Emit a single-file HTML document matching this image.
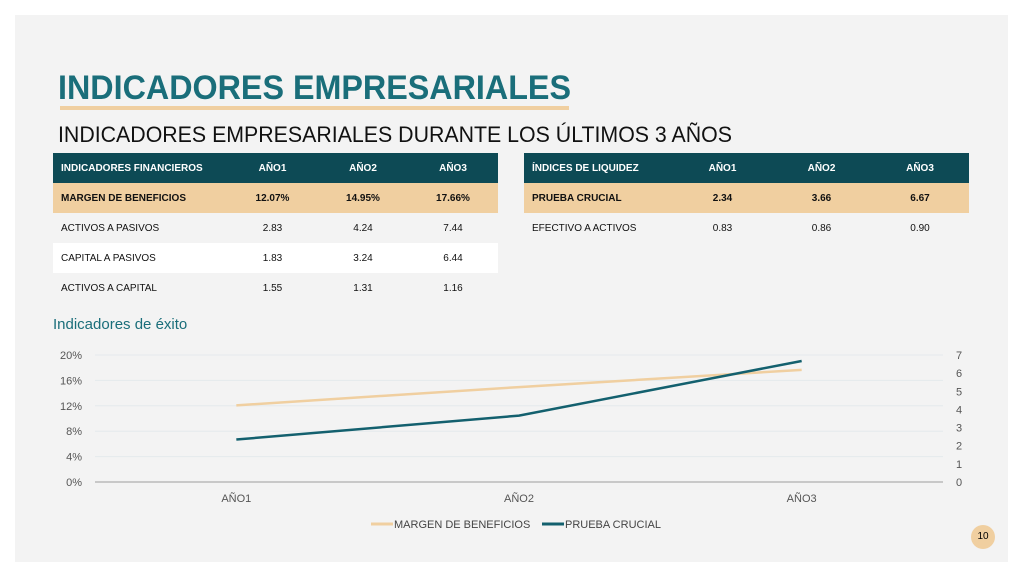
<!DOCTYPE html>
<html><head><meta charset="utf-8">
<style>
body{margin:0;width:1024px;height:576px;background:#fff;position:relative;overflow:hidden;font-family:"Liberation Sans",sans-serif}
#panel{position:absolute;left:15px;top:15px;width:993px;height:547px;background:#f3f3f3}
table{position:absolute;border-collapse:collapse;font-size:10px;color:#111}
td,th{height:30px;padding:0;text-align:center;font-weight:normal}
th{background:#0d4a55;color:#fff;font-weight:bold}
td:first-child,th:first-child{text-align:left;padding-left:8px}
tr.hl td{background:#f0cfa0;font-weight:bold}
tr.wh td{background:#fff}
</style></head><body>
<div id="panel"></div>
<svg width="1024" height="576" style="position:absolute;left:0;top:0">
<text x="58" y="99" font-family="Liberation Sans Narrow, Liberation Sans, sans-serif" font-weight="bold" font-size="34" fill="#1a6e7a" textLength="513" lengthAdjust="spacingAndGlyphs">INDICADORES EMPRESARIALES</text>
<rect x="60" y="106" width="509" height="4" fill="#f0cfa0"/>
<text x="58" y="142" font-family="Liberation Sans Narrow, Liberation Sans, sans-serif" font-size="22" fill="#111" textLength="674" lengthAdjust="spacingAndGlyphs">INDICADORES EMPRESARIALES DURANTE LOS ÚLTIMOS 3 AÑOS</text>
</svg>
<table style="left:53px;top:153px;width:445px">
<colgroup><col style="width:174px"><col style="width:91px"><col style="width:90px"><col style="width:90px"></colgroup>
<tr><th>INDICADORES FINANCIEROS</th><th>AÑO1</th><th>AÑO2</th><th>AÑO3</th></tr>
<tr class="hl"><td>MARGEN DE BENEFICIOS</td><td>12.07%</td><td>14.95%</td><td>17.66%</td></tr>
<tr><td>ACTIVOS A PASIVOS</td><td>2.83</td><td>4.24</td><td>7.44</td></tr>
<tr class="wh"><td>CAPITAL A PASIVOS</td><td>1.83</td><td>3.24</td><td>6.44</td></tr>
<tr><td>ACTIVOS A CAPITAL</td><td>1.55</td><td>1.31</td><td>1.16</td></tr>
</table>
<table style="left:524px;top:153px;width:445px">
<colgroup><col style="width:149px"><col style="width:99px"><col style="width:99px"><col style="width:98px"></colgroup>
<tr><th>ÍNDICES DE LIQUIDEZ</th><th>AÑO1</th><th>AÑO2</th><th>AÑO3</th></tr>
<tr class="hl"><td>PRUEBA CRUCIAL</td><td>2.34</td><td>3.66</td><td>6.67</td></tr>
<tr><td>EFECTIVO A ACTIVOS</td><td>0.83</td><td>0.86</td><td>0.90</td></tr>
</table>
<svg id="chart" width="1024" height="576" style="position:absolute;left:0;top:0"></svg>
<div style="position:absolute;left:971px;top:525px;width:24px;height:24px;border-radius:50%;background:#f0cfa0;font-size:10px;text-align:center;line-height:24px">10</div>
<script>
const categories=["AÑO1","AÑO2","AÑO3"];
const margen=[12.07,14.95,17.66];
const prueba=[2.34,3.66,6.67];
const leftTicks=[0,4,8,12,16,20];
const rightTicks=[0,1,2,3,4,5,6,7];
const svg=document.getElementById('chart');
const NS='http://www.w3.org/2000/svg';
const x0=95,x1=943,yB=482,yT=355;
const xs=i=>x0+(i+0.5)*(x1-x0)/categories.length;
const yL=v=>yB-v/20*(yB-yT);
const yR=v=>yB-v/7*(yB-yT);
function mk(t,a,txt){const e=document.createElementNS(NS,t);for(const k in a)e.setAttribute(k,a[k]);if(txt!==undefined)e.textContent=txt;svg.appendChild(e);return e;}
const ff='Liberation Sans Narrow, Liberation Sans, sans-serif';
let t=mk('text',{x:53,y:329,'font-family':ff,'font-size':15,fill:'#1a6e7a'},'Indicadores de éxito');


leftTicks.forEach(v=>{
 const g=mk('line',{x1:x0,x2:x1,y1:yL(v),y2:yL(v),stroke:v?'#e4eaec':'#c8c8c8','stroke-width':v?1:2});
 
 
 const l=mk('text',{x:82,y:yL(v)+4,'text-anchor':'end','font-family':ff,'font-size':11,fill:'#555'},v+'%');
 
 
});
rightTicks.forEach(v=>{
 const l=mk('text',{x:956,y:yR(v)+4,'font-family':ff,'font-size':11,fill:'#555'},v);
 
 
});
categories.forEach((c,i)=>{
 const l=mk('text',{x:xs(i),y:502,'text-anchor':'middle','font-family':ff,'font-size':11,fill:'#555'},c);
 
 
});
const p1=mk('polyline',{points:margen.map((v,i)=>xs(i)+','+yL(v)).join(' '),fill:'none',stroke:'#f0cfa0','stroke-width':2.5});


const p2=mk('polyline',{points:prueba.map((v,i)=>xs(i)+','+yR(v)).join(' '),fill:'none',stroke:'#13606e','stroke-width':2.5});


const lg1=mk('line',{x1:371,x2:393,y1:524,y2:524,stroke:'#f0cfa0','stroke-width':3});


const lt1=mk('text',{x:394,y:528,'font-family':ff,'font-size':11,fill:'#444'},'MARGEN DE BENEFICIOS');


const lg2=mk('line',{x1:542,x2:564,y1:524,y2:524,stroke:'#13606e','stroke-width':3});


const lt2=mk('text',{x:565,y:528,'font-family':ff,'font-size':11,fill:'#444'},'PRUEBA CRUCIAL');


</script>
</body></html>
